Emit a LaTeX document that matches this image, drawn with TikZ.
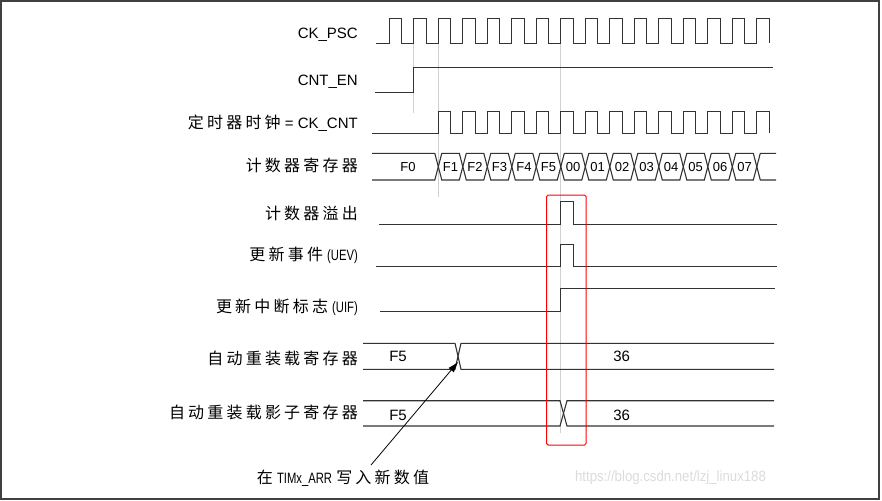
\documentclass[tikz,border=0pt]{standalone}
\usepackage{fontspec}
\setmainfont{Liberation Sans}
\newfontfamily\cjk[LetterSpace=20]{Noto Sans CJK SC}
\newfontfamily\narrow[FakeStretch=0.75]{Liberation Sans}
\newfontfamily\wmfont[FakeStretch=0.88]{Liberation Sans}
\newcommand{\zh}[1]{{\cjk\fontsize{16}{18}\selectfont #1}}
\usetikzlibrary{arrows.meta}
\tikzset{
  wave/.style={line width=1.1pt, draw=black!80},
  guide/.style={line width=0.7pt, draw=black!18},
  lbl/.style={anchor=east, inner sep=0pt, font=\fontsize{15}{18}\selectfont},
  val/.style={inner sep=0pt, font=\fontsize{13}{15}\selectfont},
  regval/.style={inner sep=0pt, font=\fontsize{15}{18}\selectfont},
}

\begin{document}
\begin{tikzpicture}[x=1pt,y=-1pt]
        \useasboundingbox (0,0) rectangle (882,500);
        \def\per{24.5}
        \def\rz{389.3}
        % Frame
        \draw[line width=2pt, draw=black!75] (1,1.5) rectangle (879,498.8);
        % Guide lines
        \draw[guide] ({\rz+\per},43) -- ++(0,70);
        \draw[guide] ({\rz+2*\per},43) -- ++(0,154);
        \draw[guide] ({\rz+7*\per},43) -- ++(0,390);
        % Labels on the left
        \node[lbl] (ckpsc) at (358,35) {CK\_PSC};
        \node[lbl] (cnten) at (358,82) {CNT\_EN};
        \node[lbl] (ckcnt) at (358,123) {\zh{定时器时钟} = CK\_CNT};
        \node[lbl] (cntreg) at (358,165) {\zh{计数器寄存器}};
        \node[lbl] (ovf) at (358,213) {\zh{计数器溢出}};
        \node[lbl] (uev) at (358,255) {\zh{更新事件} {\narrow (UEV)}};
        \node[lbl] (uif) at (358,307) {\zh{更新中断标志} {\narrow (UIF)}};
        \node[lbl] (arr) at (358,358) {\zh{自动重装载寄存器}};
        \node[lbl] (sarr) at (358,412) {\zh{自动重装载影子寄存器}};
        % CK_PSC
        \draw[wave] (376,43.3) foreach \k in {0,...,15}{ -- ({\rz+\per*\k},43.3) -- ++(0,-25) -- ++(12.3,0) -- ++(0,25) };
        % CNT_EN
        \draw[wave] (375,92.7) -- ({\rz+\per},92.7) -- ++(0,-25) -- (773,67.7);
        % CK_CNT
        \draw[wave] (372,133.3) foreach \k in {2,...,15}{ -- ({\rz+\per*\k},133.3) -- ++(0,-21.6) -- ++(12.3,0) -- ++(0,21.6) };
        % Counter register
        \draw[wave] (372,153.3) -- ({\rz+2*\per-3.5},153.3) -- ({\rz+2*\per},166.7) -- ({\rz+2*\per-3.5},180) -- (372,180);
        \foreach \k in {2,...,14}
          \draw[wave] ({\rz+\per*\k},166.7) -- ++(3.5,-13.4) -- ({\rz+\per*(\k+1)-3.5},153.3) -- ++(3.5,13.4) -- ++(-3.5,13.3) -- ({\rz+\per*\k+3.5},180) -- cycle;
        \draw[wave] (776,153.3) -- ({\rz+15*\per+3.5},153.3) -- ({\rz+15*\per},166.7) -- ({\rz+15*\per+3.5},180) -- (776,180);
        \node[val] (vF0) at (408,166.7) {F0};
        \foreach \v [count=\k from 2] in {F1,F2,F3,F4,F5,00,01,02,03,04,05,06,07}
          \node[val] (v\v) at ({\rz+\per*(\k+0.5)},166.7) {\v};
        % Overflow, UEV, UIF
        \draw[wave] (379.3,224.3) -- ({\rz+7*\per},224.3) -- ++(0,-22.6) -- ++(12.3,0) -- ++(0,22.6) -- (776.7,224.3);
        \draw[wave] (376,266.7) -- ({\rz+7*\per},266.7) -- ++(0,-22.4) -- ++(12.3,0) -- ++(0,22.4) -- (776.7,266.7);
        \draw[wave] (380,311.7) -- ({\rz+7*\per},311.7) -- ++(0,-23.4) -- (775,288.3);
        % Auto-reload register
        \draw[wave] (363,343.3) -- (455,343.3) -- (461,369.3) -- (774,369.3);
        \draw[wave] (363,369.3) -- (455,369.3) -- (461,343.3) -- (774,343.3);
        \node[regval] (arrold) at (398,356.7) {F5};
        \node[regval] (arrnew) at (621.7,356.7) {36};
        % Shadow register
        \draw[wave] (363,400.7) -- (560,400.7) -- (567,426) -- (774,426);
        \draw[wave] (363,426) -- (560,426) -- (567,400.7) -- (774,400.7);
        \node[regval] (sarrold) at (398,415) {F5};
        \node[regval] (sarrnew) at (621.7,415) {36};
        % Red box
        \draw[red, line width=1pt, rounded corners=1.5pt] (546.7,195) rectangle (586,445);
        % Note with arrow
        \node[inner sep=0pt, font=\fontsize{15}{18}\selectfont] (note) at (343,478) {\zh{在} {\narrow TIMx\_ARR} \zh{写入新数值}};
        \coordinate (notetop) at (371,465);
        \coordinate (tip) at (458.3,361.7);
        \draw[-{Latex[length=11pt,width=7pt]}, line width=0.8pt] (notetop) -- (tip);
        % Watermark
        \node[inner sep=0pt, text=black!14, font=\wmfont\fontsize{15}{18}\selectfont] (wm) at (670.5,478) {https://blog.csdn.net/lzj\_linux188};
\end{tikzpicture}
\end{document}
